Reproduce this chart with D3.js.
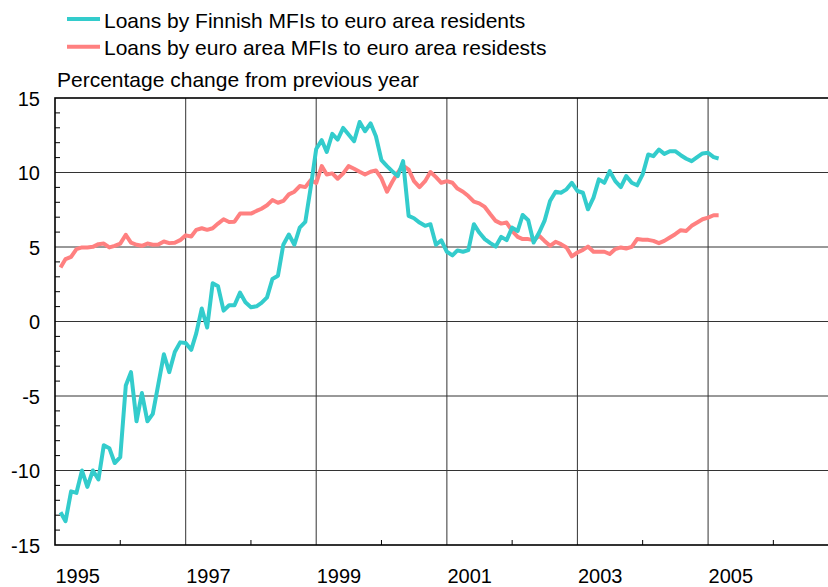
<!DOCTYPE html>
<html>
<head>
<meta charset="utf-8">
<script src="https://cdn.jsdelivr.net/npm/d3@7"></script>
<style>
  body { margin: 0; background: #fff; }
  svg { display: block; font-family: Arial, "Liberation Sans", sans-serif; }
</style>
</head>
<body>
<div id="chart"></div>
<script>
// monthly observations, first one is end of January 1995
const firstMonth = new Date(Date.UTC(1995, 1, 1));

const finnishLoans = [
  -12.8, -13.4, -11.4, -11.5, -10.0, -11.1, -10.0, -10.6, -8.3, -8.5, -9.5, -9.1,
  -4.3, -3.4, -6.7, -4.8, -6.7, -6.2, -4.2, -2.2, -3.4, -2.05, -1.4, -1.45,
  -1.9, -0.8, 0.87, -0.4, 2.56, 2.36, 0.73, 1.09, 1.09, 1.94, 1.29, 0.96,
  1.02, 1.25, 1.62, 2.85, 3.07, 5.15, 5.84, 5.15, 6.3, 6.68, 8.98, 11.58,
  12.17, 11.38, 12.59, 12.21, 12.99, 12.55, 12.1, 13.39, 12.77, 13.3, 12.43, 10.83,
  10.43, 10.09, 9.76, 10.76, 7.09, 6.93, 6.64, 6.42, 6.53, 5.15, 5.45, 4.68,
  4.44, 4.77, 4.68, 4.79, 6.53, 5.97, 5.53, 5.26, 5.03, 5.68, 5.46, 6.3,
  6.08, 7.15, 6.8, 5.3, 5.97, 6.75, 8.09, 8.71, 8.64, 8.87, 9.31, 8.76,
  8.64, 7.53, 8.31, 9.54, 9.31, 10.09, 9.42, 9.02, 9.76, 9.31, 9.14, 9.87,
  11.21, 11.1, 11.54, 11.25, 11.43, 11.43, 11.16, 10.92, 10.76, 11.03, 11.28, 11.32,
  11.03, 10.94
];

const euroAreaLoans = [
  3.63, 4.19, 4.34, 4.86, 4.97, 4.97, 5.01, 5.19, 5.23, 4.97, 5.08, 5.23,
  5.82, 5.3, 5.15, 5.08, 5.23, 5.15, 5.17, 5.37, 5.26, 5.28, 5.46, 5.78,
  5.7, 6.15, 6.26, 6.15, 6.26, 6.57, 6.86, 6.68, 6.7, 7.24, 7.24, 7.24,
  7.42, 7.57, 7.8, 8.15, 7.97, 8.09, 8.53, 8.71, 9.09, 9.02, 9.49, 9.29,
  10.43, 9.87, 9.94, 9.58, 9.94, 10.43, 10.25, 10.05, 9.87, 10.05, 10.14, 9.6,
  8.71, 9.36, 9.98, 10.47, 10.2, 9.42, 9.02, 9.42, 10.03, 9.69, 9.31, 9.42,
  9.31, 8.92, 8.71, 8.42, 8.04, 7.93, 7.69, 7.2, 6.75, 6.57, 6.64, 6.08,
  5.68, 5.53, 5.53, 5.46, 5.75, 5.41, 5.08, 5.35, 5.19, 4.97, 4.37, 4.63,
  4.81, 5.03, 4.68, 4.68, 4.68, 4.53, 4.86, 4.97, 4.9, 5.01, 5.53, 5.48,
  5.48, 5.41, 5.26, 5.41, 5.64, 5.86, 6.13, 6.08, 6.42, 6.64, 6.86, 6.97,
  7.13, 7.13
];

const seriesNames = [
  'Loans by Finnish MFIs to euro area residents',
  'Loans by euro area MFIs to euro area residests'
];
const seriesColours = ['#33cccc', '#ff8080'];

const yTicks = [-15, -10, -5, 0, 5, 10, 15];
const yearLabels = [1995, 1997, 1999, 2001, 2003, 2005];
const gridYears = [1997, 1999, 2001, 2003, 2005, 2007];
const minorYears = [1996, 1998, 2000, 2002, 2004, 2006];

const config = {
  width: 828,
  height: 587,
  left: 55,
  right: 838.6,
  top: 98,
  bottom: 545,
  yearStart: 1995,
  yearEnd: 2007,
  fontSize: 20
};

const yearDate = y => new Date(Date.UTC(y, 0, 1));

const x = d3.scaleUtc()
  .domain([yearDate(config.yearStart), yearDate(config.yearEnd)])
  .range([config.left, config.right]);
const y = d3.scaleLinear()
  .domain([-15, 15])
  .range([config.bottom, config.top]);

const svg = d3.select('#chart').append('svg')
  .attr('width', config.width)
  .attr('height', config.height);

// grid
const grid = svg.append('g').attr('stroke', '#333').attr('stroke-width', 1);
grid.selectAll('.vgrid').data(gridYears).join('line')
  .attr('x1', d => x(yearDate(d))).attr('x2', d => x(yearDate(d)))
  .attr('y1', config.top).attr('y2', config.bottom);
grid.selectAll('.hgrid').data(yTicks.slice(1, -1)).join('line')
  .attr('x1', config.left).attr('x2', config.right)
  .attr('y1', d => y(d)).attr('y2', d => y(d));

// minor ticks, pointing inside
const minorY = d3.range(-14, 15).filter(v => v % 5 !== 0);
svg.append('g').attr('stroke', '#000').attr('stroke-width', 1)
  .selectAll('line').data(minorY).join('line')
  .attr('x1', config.left).attr('x2', config.left + 5)
  .attr('y1', d => y(d)).attr('y2', d => y(d));
svg.append('g').attr('stroke', '#000').attr('stroke-width', 1)
  .selectAll('line').data(minorYears).join('line')
  .attr('x1', d => x(yearDate(d))).attr('x2', d => x(yearDate(d)))
  .attr('y1', config.bottom).attr('y2', config.bottom - 5);

// frame
svg.append('rect')
  .attr('x', config.left).attr('y', config.top)
  .attr('width', config.right - config.left)
  .attr('height', config.bottom - config.top)
  .attr('fill', 'none').attr('stroke', '#000').attr('stroke-width', 1.6);

// axes (labels only)
const yAxis = svg.append('g')
  .attr('transform', 'translate(' + (config.left - 15) + ',0)')
  .call(d3.axisLeft(y).tickValues(yTicks).tickSize(0).tickPadding(0).tickFormat(d => String(d)));
yAxis.select('.domain').remove();
yAxis.selectAll('text')
  .attr('font-size', config.fontSize).attr('font-family', null).attr('fill', '#000')
  .attr('dy', '0.36em');

const xAxis = svg.append('g')
  .attr('transform', 'translate(0,' + config.bottom + ')')
  .call(d3.axisBottom(x).tickValues(yearLabels.map(yearDate)).tickSize(0).tickPadding(0)
    .tickFormat(d => d.getUTCFullYear()));
xAxis.select('.domain').remove();
xAxis.selectAll('text')
  .attr('font-size', config.fontSize).attr('font-family', null).attr('fill', '#000')
  .attr('text-anchor', 'start').attr('dy', null).attr('y', 38);

// lines
const line = d3.line()
  .x((d, i) => x(d3.utcMonth.offset(firstMonth, i)))
  .y(d => y(d));

[euroAreaLoans, finnishLoans].forEach((values, k) => {
  svg.append('path')
    .datum(values)
    .attr('d', line)
    .attr('fill', 'none')
    .attr('stroke', seriesColours[1 - k])
    .attr('stroke-width', 4)
    .attr('stroke-linejoin', 'round');
});

// legend
const legend = svg.append('g');
seriesNames.forEach((name, i) => {
  const ly = 19 + i * 27.7;
  legend.append('line')
    .attr('x1', 67).attr('x2', 100).attr('y1', ly).attr('y2', ly)
    .attr('stroke', seriesColours[i]).attr('stroke-width', 4);
  legend.append('text')
    .attr('x', 104).attr('y', ly + 8.5)
    .attr('font-size', 21)
    .text(name);
});

svg.append('text')
  .attr('x', 57).attr('y', 86.5)
  .attr('font-size', 21)
  .text('Percentage change from previous year');
</script>
</body>
</html>
